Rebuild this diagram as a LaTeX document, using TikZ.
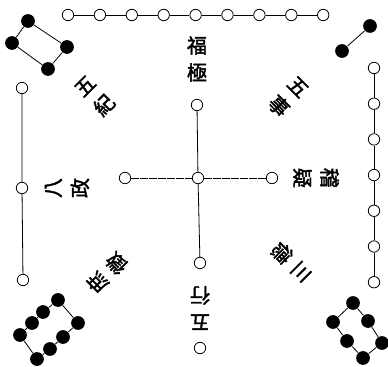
\documentclass[tikz,border=0pt]{standalone}
\usepackage{fontspec}
\usepackage{tikz}
\newfontfamily\cjk[FakeBold=2]{Noto Sans CJK TC}

\tikzset{
  wdot/.style={circle,draw,fill=white,line width=0.8pt,inner sep=0pt,minimum size=0.4cm},
  bdot/.style={circle,fill=black,inner sep=0pt,minimum size=0.48cm},
  lbl/.style={font=\cjk\fontsize{20}{27}\selectfont,align=center,inner sep=0pt},
}

\begin{document}
\begin{tikzpicture}[x=0.035cm,y=-0.035cm,line width=0.8pt]
\useasboundingbox (0,0) rectangle (388,367);
% nine along the top
\foreach \i in {1,...,9}{
  \node[wdot] (t\i) at (68+31.9*\i-31.9,15) {};
}
\foreach \i [evaluate=\i as \j using int(\i+1)] in {1,...,8}{
  \draw (t\i) -- (t\j);
}
% seven down the right
\foreach \i in {1,...,7}{
  \node[wdot] (r\i) at (374,68+35.7*\i-35.7) {};
}
\foreach \i [evaluate=\i as \j using int(\i+1)] in {1,...,6}{
  \draw (r\i) -- (r\j);
}
% three down the left
\node[wdot] (l1) at (22,88) {};
\node[wdot] (l2) at (22,188) {};
\node[wdot] (l3) at (23,280) {};
\draw (l1) -- (l2) -- (l3);
% centre five
\node[wdot] (c) at (198,178) {};
\node[wdot] (cn) at (197,105) {};
\node[wdot] (cs) at (200,263) {};
\node[wdot] (cw) at (125,178) {};
\node[wdot] (ce) at (272,178) {};
\draw (cn) -- (c) -- (cs);
\draw[line width=0.5pt,dash pattern=on 8pt off 1pt] (cw) -- (c) -- (ce);
% one at the bottom
\node[wdot] (b1) at (200,348) {};
% two, top right
\node[bdot] (ne1) at (370,26) {};
\node[bdot] (ne2) at (342,51) {};
\draw (ne1) -- (ne2);
% four, top left
\node[bdot] (nw1) at (28,21) {};
\node[bdot] (nw2) at (67,47) {};
\node[bdot] (nw3) at (48,69) {};
\node[bdot] (nw4) at (12,43) {};
\draw (nw1) -- (nw2) -- (nw3) -- (nw4) -- (nw1);
% six, bottom right
\node[bdot] (se1) at (353,303) {};
\node[bdot] (se2) at (368,321) {};
\node[bdot] (se3) at (382,343) {};
\node[bdot] (se4) at (333,322) {};
\node[bdot] (se5) at (347,341) {};
\node[bdot] (se6) at (363,358) {};
\draw (se4) -- (se1) -- (se2) -- (se3) -- (se6) -- (se5) -- (se4);
% eight, bottom left
\node[bdot] (sw1) at (58,300) {};
\node[bdot] (sw2) at (43,312) {};
\node[bdot] (sw3) at (32,323) {};
\node[bdot] (sw4) at (20,335) {};
\node[bdot] (sw5) at (78,323) {};
\node[bdot] (sw6) at (63,337) {};
\node[bdot] (sw7) at (50,349) {};
\node[bdot] (sw8) at (37,359) {};
\draw (sw1) -- (sw2) -- (sw3) -- (sw4) -- (sw8) -- (sw7) -- (sw6) -- (sw5) -- (sw1);
% the names
\node[lbl] (fuji) at (197,59) {福\\極};
\node[lbl,rotate=-45] (wushi) at (288,97) {五\\事};
\node[lbl,rotate=-90] (jiyi) at (316,178) {稽\\疑};
\node[lbl,rotate=-135] (sande) at (291,262) {三\\德};
\node[lbl,rotate=180] (wuxing) at (200,308) {五\\行};
\node[lbl,rotate=135] (shuzheng) at (107,273) {庶\\徵};
\node[lbl,rotate=90] (bazheng) at (67,188) {八\\政};
\node[lbl,rotate=45] (wuji) at (95,96) {五\\紀};
\end{tikzpicture}
\end{document}
